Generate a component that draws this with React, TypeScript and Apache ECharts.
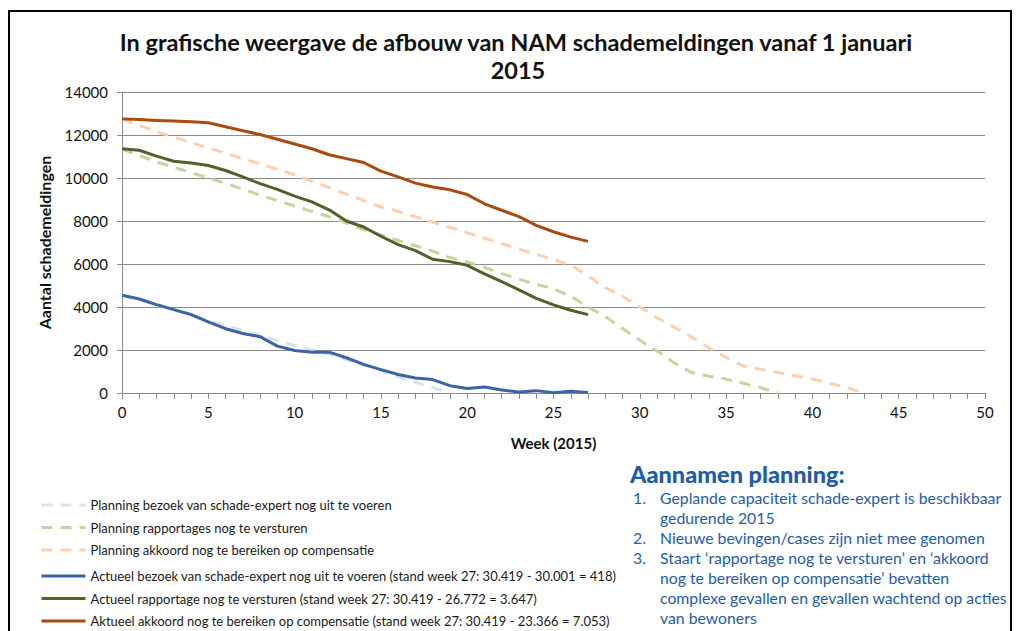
import React, { useEffect, useRef } from "react";
import * as echarts from "echarts";

const weeks = [
  "0","1","2","3","4","5","6","7","8","9","10","11","12","13","14","15","16","17","18","19","20",
  "21","22","23","24","25","26","27","28","29","30","31","32","33","34","35","36","37","38","39","40",
  "41","42","43","44","45","46","47","48","49","50",
];

const planBlue = [4550, 4330, 4100, 3860, 3630, 3350, 3150, 2900, 2700, 2450, 2200, 2000, 1800, 1550, 1300, 1050, 750, 500, 250, 0];
const planGreen = [11350, 11050, 10750, 10500, 10250, 10000, 9750, 9480, 9200, 8950, 8700, 8450, 8200, 7900, 7600, 7350, 7100, 6850, 6600, 6300, 6100, 5850, 5550, 5300, 5050, 4850, 4500, 4000, 3550, 3000, 2450, 1950, 1400, 950, 780, 650, 450, 250, 0];
const planOrange = [12750, 12450, 12150, 11900, 11650, 11400, 11150, 10900, 10650, 10400, 10150, 9850, 9550, 9250, 8950, 8650, 8450, 8200, 7950, 7700, 7450, 7200, 6950, 6700, 6450, 6200, 5950, 5450, 4900, 4500, 4000, 3500, 3050, 2600, 2100, 1650, 1250, 1100, 950, 800, 650, 450, 250, 0];
const actBlue = [4550, 4370, 4110, 3880, 3650, 3310, 2990, 2770, 2620, 2180, 1980, 1900, 1900, 1640, 1330, 1090, 860, 700, 625, 340, 210, 280, 140, 50, 110, 10, 80, 20];
const actGreen = [11360, 11290, 11020, 10780, 10700, 10580, 10350, 10050, 9740, 9470, 9160, 8890, 8520, 8000, 7720, 7290, 6900, 6620, 6220, 6110, 5940, 5540, 5180, 4800, 4400, 4100, 3850, 3647];
const actOrange = [12750, 12720, 12680, 12650, 12620, 12570, 12380, 12200, 12020, 11800, 11580, 11360, 11080, 10900, 10720, 10320, 10050, 9760, 9580, 9450, 9230, 8800, 8500, 8200, 7800, 7500, 7250, 7053];

const seriesNames = [
  "Planning bezoek van schade-expert nog uit te voeren",
  "Planning rapportages nog te versturen",
  "Planning akkoord nog te bereiken op compensatie",
  "Actueel bezoek van schade-expert nog uit te voeren (stand week 27: 30.419 - 30.001 = 418)",
  "Actueel rapportage nog te versturen (stand week 27: 30.419 - 26.772 = 3.647)",
  "Aktueel akkoord nog te bereiken op compensatie (stand week 27: 30.419 - 23.366 = 7.053)",
];

const titleLines = ["In grafische weergave de afbouw van NAM schademeldingen vanaf 1 januari", "2015"];
const yAxisTitle = "Aantal schademeldingen";
const xAxisTitle = "Week (2015)";

const noteHeading = "Aannamen planning:";
const noteNumbers = ["1.", "", "2.", "3.", "", "", ""];
const noteLines = [
  "Geplande capaciteit schade-expert is beschikbaar",
  "gedurende 2015",
  "Nieuwe bevingen/cases zijn niet mee genomen",
  "Staart \u2018rapportage nog te versturen\u2019 en \u2018akkoord",
  "nog te bereiken op compensatie\u2019 bevatten",
  "complexe gevallen en gevallen wachtend op acties",
  "van bewoners",
];

const FONT = "Lato, 'Noto Sans', sans-serif";
const NOTE_BLUE = "#1f5ca8";

export default function App() {
  const ref = useRef<HTMLDivElement>(null);

  useEffect(() => {
    if (!ref.current) return;
    const chart = echarts.init(ref.current, null, { renderer: "svg" });

    const colors = ["#d6e2f0", "#c3d69b", "#fcd0ac", "#3c64a4", "#4f6228", "#a84b10"];
    const datasets = [planBlue, planGreen, planOrange, actBlue, actGreen, actOrange];

    const series = datasets.map((d, i) => ({
      name: seriesNames[i],
      type: "line",
      data: d,
      symbol: "none",
      showSymbol: false,
      smooth: false,
      z: i < 3 ? 2 : 3,
      lineStyle: {
        color: colors[i],
        width: 3,
        type: i < 3 ? [11, 8] : "solid",
        cap: "butt",
        join: "round",
      },
      itemStyle: { color: colors[i] },
    }));

    const noteGraphics: any[] = [];
    const lineY = [497, 517, 537, 557, 577, 597, 617];
    noteLines.forEach((t, i) => {
      if (noteNumbers[i]) {
        noteGraphics.push({
          type: "text",
          x: 633,
          y: lineY[i],
          style: { text: noteNumbers[i], font: `15.8px ${FONT}`, fill: NOTE_BLUE, textVerticalAlign: "middle" },
        });
      }
      noteGraphics.push({
        type: "text",
        x: 660,
        y: lineY[i],
        style: { text: t, font: `15.8px ${FONT}`, fill: NOTE_BLUE, textVerticalAlign: "middle" },
      });
    });

    const legendCommon = {
      orient: "vertical",
      left: 40,
      itemWidth: 44,
      itemHeight: 13,
      itemGap: 9.5,
      padding: 0,
      height: 90,
      width: 700,
      textStyle: { fontFamily: FONT, fontSize: 13, color: "#1a1a1a" },
      itemStyle: { opacity: 0 },
      lineStyle: { width: 3 },
      selectedMode: false,
    };

    chart.setOption({
      animation: false,
      backgroundColor: "#ffffff",
      grid: { left: 122, right: 33, top: 92, bottom: 238, containLabel: false },
      legend: [
        { ...legendCommon, top: 498.5, data: seriesNames.slice(0, 3) },
        { ...legendCommon, top: 569.5, data: seriesNames.slice(3) },
      ],
      xAxis: {
        type: "category",
        data: weeks,
        boundaryGap: false,
        name: xAxisTitle,
        nameLocation: "middle",
        nameGap: 42,
        nameTextStyle: { fontFamily: FONT, fontSize: 15, fontWeight: "bold", color: "#111" },
        axisLine: { lineStyle: { color: "#8c8c8c", width: 1 } },
        axisTick: { show: true, interval: 0, length: 6, lineStyle: { color: "#8c8c8c" } },
        axisLabel: { interval: 4, margin: 11, fontFamily: FONT, fontSize: 15, color: "#111" },
        splitLine: { show: false },
      },
      yAxis: {
        type: "value",
        min: 0,
        max: 14000,
        interval: 2000,
        name: yAxisTitle,
        nameLocation: "middle",
        nameGap: 70,
        nameRotate: 90,
        nameTextStyle: { fontFamily: FONT, fontSize: 16, fontWeight: "bold", color: "#111" },
        axisLine: { show: true, lineStyle: { color: "#8c8c8c", width: 1 } },
        axisTick: { show: true, length: 5, lineStyle: { color: "#8c8c8c" } },
        axisLabel: {
          margin: 14,
          fontFamily: FONT,
          fontSize: 15,
          color: "#111",
          formatter: (v: number) => String(v),
        },
        splitLine: { show: true, lineStyle: { color: "#8c8c8c", width: 1 } },
      },
      graphic: [
        {
          type: "rect",
          z: -10,
          silent: true,
          shape: { x: 9, y: 11, width: 1002, height: 640 },
          style: { fill: "none", stroke: "#000", lineWidth: 2 },
        },
        {
          type: "text",
          x: 516,
          y: 42,
          style: {
            text: titleLines[0],
            font: `bold 23.5px ${FONT}`,
            fill: "#111",
            textAlign: "center",
            textVerticalAlign: "middle",
          },
        },
        {
          type: "text",
          x: 518,
          y: 70,
          style: {
            text: titleLines[1],
            font: `bold 23.5px ${FONT}`,
            fill: "#111",
            textAlign: "center",
            textVerticalAlign: "middle",
          },
        },
        {
          type: "text",
          x: 630,
          y: 474,
          style: { text: noteHeading, font: `900 23.5px ${FONT}`, fill: NOTE_BLUE, textVerticalAlign: "middle" },
        },
        ...noteGraphics,
      ],
      series,
    });

    return () => chart.dispose();
  }, []);

  return (
    <div
      ref={ref}
      style={{ position: "fixed", left: 0, top: 0, width: 1018, height: 631, background: "#fff" }}
    />
  );
}
